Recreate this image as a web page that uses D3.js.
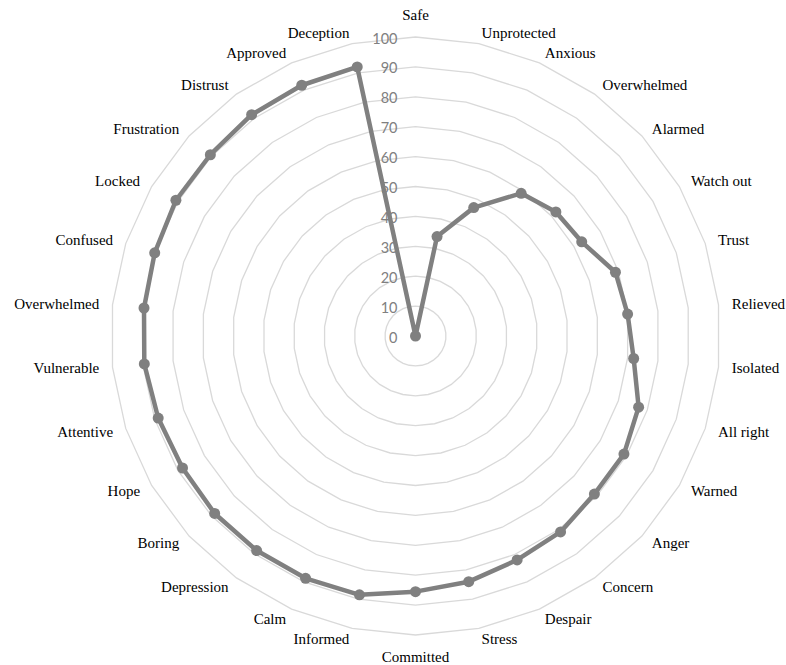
<!DOCTYPE html>
<html>
<head>
<meta charset="utf-8">
<script src="https://cdn.jsdelivr.net/npm/d3@7"></script>
<style>
  html, body { margin: 0; padding: 0; background: #ffffff; }
  svg { display: block; }
</style>
</head>
<body>
<svg id="chart" width="786" height="665"></svg>
<script>
// Emotion categories, clockwise from the top
const categories = [
  "Safe", "Unprotected", "Anxious", "Overwhelmed", "Alarmed", "Watch out",
  "Trust", "Relieved", "Isolated", "All right", "Warned", "Anger",
  "Concern", "Despair", "Stress", "Committed", "Informed", "Calm",
  "Depression", "Boring", "Hope", "Attentive", "Vulnerable", "Overwhelmed",
  "Confused", "Locked", "Frustration", "Distrust", "Approved", "Deception"
];

// Score for each category
const values = [
  0, 34, 47, 59, 62, 63,
  69, 70, 72, 77, 79, 79,
  81, 82, 84, 85.5, 88.5, 88.7,
  88.7, 88.7, 88.3, 88.8, 89.5, 89.6,
  90, 90.8, 90.6, 91.5, 91.8, 92
];

// Value axis tick labels
const tickValues = [0, 10, 20, 30, 40, 50, 60, 70, 80, 90, 100];

const svg = d3.select("#chart");
const cx = 415.5, cy = 336;
const radius = 299;
const kx = 1.019;            // plot area is slightly wider than tall
const labelRx = 318, labelRy = 310;

const r = d3.scaleLinear().domain([0, 100]).range([0, radius]);
const angle = d3.scaleLinear().domain([0, categories.length]).range([0, 2 * Math.PI]);

const pt = (i, v) => {
  const a = angle(i);
  return [cx + kx * r(v) * Math.sin(a), cy - r(v) * Math.cos(a)];
};

const line = d3.line().curve(d3.curveLinearClosed);

// Grid polygons
svg.append("g")
  .selectAll("path")
  .data(tickValues.filter(t => t > 0))
  .join("path")
  .attr("d", t => line(categories.map((_, i) => pt(i, t))))
  .attr("fill", "none")
  .attr("stroke", "#d9d9d9")
  .attr("stroke-width", 1.3);

// Value axis labels
svg.append("g")
  .selectAll("text")
  .data(tickValues)
  .join("text")
  .attr("x", cx - 18)
  .attr("y", t => cy - r(t) + 1)
  .attr("text-anchor", "end")
  .attr("dominant-baseline", "central")
  .attr("font-family", "Lato, 'Open Sans', sans-serif")
  .attr("font-size", 14.5)
  .attr("fill", "#808080")
  .text(t => t);

// Category labels
svg.append("g")
  .selectAll("text")
  .data(categories)
  .join("text")
  .each(function(d, i) {
    const a = angle(i);
    const s = Math.sin(a), c = Math.cos(a);
    const el = d3.select(this);
    let anchor = "middle";
    let x = cx + labelRx * s;
    let y = cy - labelRy * c;
    if (Math.abs(s) < 0.01) {
      y = cy - (labelRy + 11) * c;
    } else {
      anchor = s > 0 ? "start" : "end";
    }
    el.attr("x", x).attr("y", y).attr("text-anchor", anchor);
  })
  .attr("dominant-baseline", "central")
  .attr("font-family", "'Liberation Serif', 'Times New Roman', serif")
  .attr("font-size", 15)
  .attr("fill", "#000000")
  .text(d => d);

// Series line
const pts = values.map((v, i) => pt(i, v));
svg.append("path")
  .attr("d", line(pts))
  .attr("fill", "none")
  .attr("stroke", "#808080")
  .attr("stroke-width", 4.5)
  .attr("stroke-linejoin", "round");

// Markers
svg.append("g")
  .selectAll("circle")
  .data(pts)
  .join("circle")
  .attr("cx", d => d[0])
  .attr("cy", d => d[1])
  .attr("r", 5.5)
  .attr("fill", "#808080");
</script>
</body>
</html>
